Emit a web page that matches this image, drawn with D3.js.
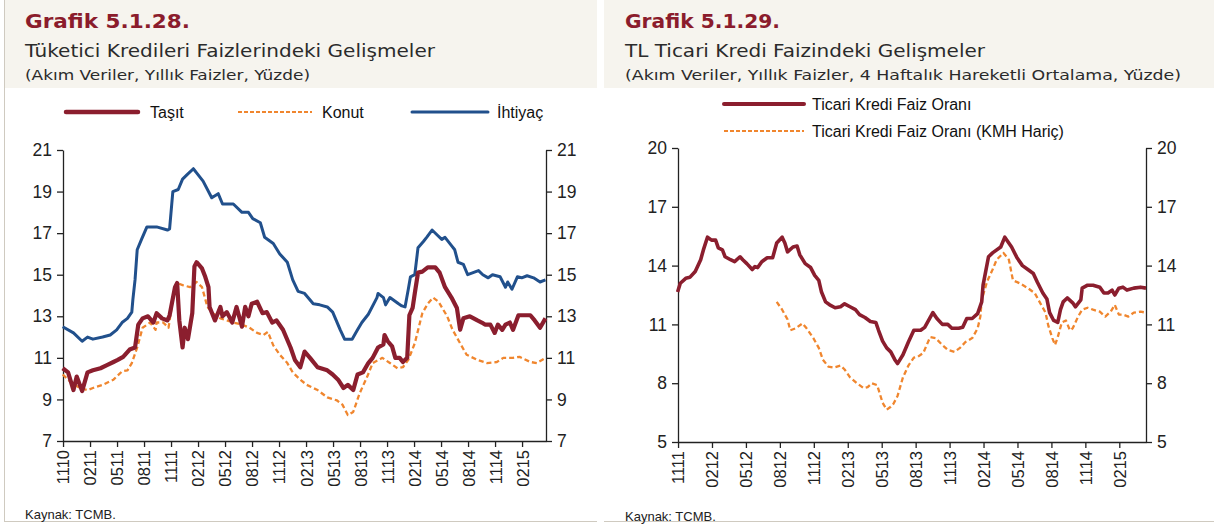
<!DOCTYPE html>
<html><head><meta charset="utf-8">
<script src="https://cdn.jsdelivr.net/npm/d3@7"></script>
<style>
html,body{margin:0;padding:0;background:#fff;}
svg{display:block;}
text{font-family:"Liberation Sans",Arial,sans-serif;}
.ttl{font-family:"DejaVu Sans","Noto Sans",sans-serif;}
</style></head>
<body><svg id="c" width="1214" height="527"></svg>
<script>
// ---------- DATA ----------
// Left chart (Grafik 5.1.28) – time in decimal years, values in %
const leftTickLabels = ["1110","0211","0511","0811","1111","0212","0512","0812","1112","0213","0513","0813","1113","0214","0514","0814","1114","0215"];
const leftYTicks = [7,9,11,13,15,17,19,21];
const tasit = [[2010.83,10.5],[2010.88,10.3],[2010.93,9.45],[2010.96,10.1],[2011.01,9.4],[2011.06,10.3],[2011.11,10.4],[2011.18,10.5],[2011.24,10.65],[2011.30,10.8],[2011.34,10.9],[2011.39,11.05],[2011.45,11.4],[2011.50,11.5],[2011.53,12.6],[2011.57,12.9],[2011.62,13.0],[2011.67,12.7],[2011.70,13.15],[2011.75,12.9],[2011.80,12.8],[2011.82,13.05],[2011.87,14.4],[2011.89,14.6],[2011.91,12.8],[2011.94,11.5],[2011.96,12.45],[2011.99,11.9],[2012.03,13.15],[2012.05,15.4],[2012.07,15.6],[2012.12,15.3],[2012.15,14.9],[2012.18,14.4],[2012.19,13.45],[2012.24,12.8],[2012.29,13.45],[2012.31,13.0],[2012.35,13.2],[2012.40,12.7],[2012.44,13.45],[2012.49,12.5],[2012.52,13.45],[2012.55,13.0],[2012.58,13.6],[2012.63,13.7],[2012.68,13.15],[2012.72,13.2],[2012.77,12.7],[2012.81,12.8],[2012.87,12.35],[2012.94,11.5],[2012.98,10.9],[2013.03,10.55],[2013.07,11.3],[2013.12,11.0],[2013.19,10.55],[2013.28,10.4],[2013.33,10.2],[2013.38,9.95],[2013.43,9.55],[2013.47,9.7],[2013.52,9.45],[2013.56,10.2],[2013.61,10.3],[2013.66,10.75],[2013.70,11.0],[2013.75,11.5],[2013.80,11.65],[2013.81,12.1],[2013.84,11.8],[2013.88,11.55],[2013.91,11.0],[2013.95,11.0],[2013.98,10.8],[2014.02,11.0],[2014.04,13.05],[2014.07,13.4],[2014.09,14.1],[2014.12,15.1],[2014.16,15.15],[2014.21,15.35],[2014.28,15.35],[2014.32,15.1],[2014.37,14.4],[2014.43,13.9],[2014.48,13.4],[2014.51,12.35],[2014.54,12.9],[2014.60,13.0],[2014.67,12.8],[2014.71,12.7],[2014.74,12.6],[2014.79,12.6],[2014.83,12.2],[2014.86,12.6],[2014.90,12.35],[2014.93,12.6],[2014.97,12.7],[2015.00,12.35],[2015.05,13.05],[2015.09,13.05],[2015.16,13.05],[2015.20,12.8],[2015.25,12.45],[2015.30,12.9]];
const konut = [[2010.83,10.2],[2010.90,9.85],[2010.99,9.55],[2011.06,9.45],[2011.11,9.55],[2011.20,9.7],[2011.30,9.95],[2011.38,10.35],[2011.43,10.4],[2011.47,10.75],[2011.52,11.5],[2011.57,12.45],[2011.64,12.7],[2011.69,12.35],[2011.70,12.7],[2011.76,12.7],[2011.81,12.45],[2011.85,13.8],[2011.89,14.6],[2011.94,14.5],[2012.01,14.4],[2012.07,14.65],[2012.12,14.4],[2012.17,13.45],[2012.22,13.15],[2012.29,12.9],[2012.35,12.8],[2012.41,12.7],[2012.49,12.6],[2012.56,12.45],[2012.63,12.2],[2012.69,12.1],[2012.73,12.25],[2012.78,11.6],[2012.84,11.15],[2012.91,10.75],[2012.96,10.3],[2013.03,9.95],[2013.09,9.7],[2013.19,9.45],[2013.28,9.1],[2013.37,8.95],[2013.42,8.75],[2013.47,8.25],[2013.52,8.4],[2013.58,9.3],[2013.65,10.1],[2013.70,10.75],[2013.79,11.0],[2013.86,10.75],[2013.93,10.5],[2013.98,10.55],[2014.03,10.9],[2014.09,11.7],[2014.16,13.15],[2014.21,13.6],[2014.26,13.9],[2014.31,13.7],[2014.39,13.0],[2014.44,12.35],[2014.51,11.7],[2014.57,11.15],[2014.67,10.9],[2014.76,10.75],[2014.85,10.8],[2014.91,11.0],[2015.00,11.0],[2015.06,11.05],[2015.16,10.8],[2015.22,10.75],[2015.30,11.0]];
const ihtiyac = [[2010.83,12.5],[2010.93,12.2],[2011.01,11.8],[2011.06,12.0],[2011.11,11.9],[2011.20,12.0],[2011.27,12.1],[2011.33,12.35],[2011.38,12.7],[2011.43,12.9],[2011.47,13.2],[2011.48,13.8],[2011.50,14.75],[2011.52,16.2],[2011.56,16.7],[2011.61,17.3],[2011.70,17.3],[2011.80,17.15],[2011.82,17.2],[2011.85,19.0],[2011.90,19.1],[2011.94,19.6],[2011.98,19.8],[2012.04,20.1],[2012.07,19.9],[2012.13,19.5],[2012.21,18.7],[2012.27,18.9],[2012.31,18.4],[2012.41,18.4],[2012.49,18.0],[2012.55,18.0],[2012.59,17.7],[2012.66,17.5],[2012.70,16.8],[2012.78,16.5],[2012.84,16.0],[2012.91,15.6],[2012.96,14.75],[2013.01,14.2],[2013.07,14.1],[2013.15,13.6],[2013.21,13.55],[2013.28,13.45],[2013.33,13.2],[2013.40,12.35],[2013.44,11.9],[2013.51,11.9],[2013.56,12.35],[2013.60,12.7],[2013.66,13.1],[2013.74,13.9],[2013.75,14.1],[2013.80,13.9],[2013.82,13.55],[2013.86,13.9],[2013.94,13.6],[2013.97,13.5],[2014.00,13.45],[2014.03,14.3],[2014.05,14.9],[2014.09,15.0],[2014.12,16.3],[2014.17,16.6],[2014.20,16.8],[2014.25,17.15],[2014.30,16.9],[2014.34,16.7],[2014.37,16.8],[2014.43,16.4],[2014.46,16.2],[2014.49,15.6],[2014.54,15.5],[2014.58,15.0],[2014.63,15.1],[2014.68,15.2],[2014.72,15.0],[2014.77,14.85],[2014.81,15.0],[2014.88,14.9],[2014.93,14.4],[2014.95,14.65],[2014.99,14.3],[2015.04,14.9],[2015.08,14.85],[2015.13,14.95],[2015.19,14.85],[2015.25,14.65],[2015.30,14.75]];

// Right chart (Grafik 5.1.29)
const rightTickLabels = ["1111","0212","0512","0812","1112","0213","0513","0813","1113","0214","0514","0814","1114","0215"];
const rightYTicks = [5,8,11,14,17,20];
const ticari = [[2011.83,12.65],[2011.85,13.1],[2011.89,13.35],[2011.92,13.4],[2011.96,13.7],[2012.00,14.3],[2012.02,14.8],[2012.05,15.45],[2012.08,15.3],[2012.11,15.3],[2012.13,14.9],[2012.16,14.8],[2012.18,14.45],[2012.22,14.3],[2012.25,14.2],[2012.29,14.45],[2012.31,14.3],[2012.34,14.1],[2012.38,13.8],[2012.40,13.95],[2012.42,13.9],[2012.45,14.2],[2012.49,14.4],[2012.53,14.4],[2012.56,15.15],[2012.60,15.45],[2012.62,15.15],[2012.64,14.7],[2012.68,14.95],[2012.71,15.0],[2012.73,14.55],[2012.77,14.1],[2012.81,13.9],[2012.84,13.5],[2012.87,13.25],[2012.89,12.65],[2012.92,12.15],[2012.95,12.0],[2012.99,11.85],[2013.03,11.9],[2013.06,12.05],[2013.10,11.9],[2013.14,11.75],[2013.17,11.5],[2013.21,11.35],[2013.25,11.15],[2013.29,11.1],[2013.31,10.7],[2013.34,10.15],[2013.37,9.8],[2013.40,9.6],[2013.43,9.2],[2013.45,9.0],[2013.49,9.45],[2013.53,10.1],[2013.57,10.7],[2013.62,10.7],[2013.65,10.85],[2013.71,11.6],[2013.74,11.3],[2013.78,11.0],[2013.82,11.0],[2013.85,10.8],[2013.90,10.8],[2013.93,10.85],[2013.96,11.3],[2014.00,11.3],[2014.04,11.55],[2014.07,12.15],[2014.08,13.0],[2014.12,14.45],[2014.15,14.65],[2014.21,14.95],[2014.24,15.45],[2014.29,14.95],[2014.33,14.4],[2014.37,14.0],[2014.41,13.8],[2014.45,13.6],[2014.48,13.15],[2014.52,12.6],[2014.55,12.3],[2014.57,11.6],[2014.60,11.2],[2014.63,11.1],[2014.65,11.75],[2014.67,12.15],[2014.70,12.35],[2014.74,12.1],[2014.76,11.9],[2014.80,12.25],[2014.81,12.85],[2014.85,13.0],[2014.89,13.0],[2014.94,12.9],[2014.97,12.6],[2015.00,12.6],[2015.03,12.75],[2015.05,12.5],[2015.08,12.85],[2015.11,12.9],[2015.14,12.75],[2015.19,12.85],[2015.24,12.9],[2015.28,12.85]];
const ticariKMH = [[2012.56,12.15],[2012.60,11.75],[2012.64,11.25],[2012.66,10.7],[2012.70,10.8],[2012.75,11.05],[2012.78,10.8],[2012.83,10.3],[2012.87,9.8],[2012.90,9.2],[2012.94,8.85],[2012.98,8.8],[2013.03,8.9],[2013.06,8.7],[2013.10,8.3],[2013.15,8.0],[2013.20,7.75],[2013.23,7.8],[2013.26,8.0],[2013.30,7.9],[2013.32,7.45],[2013.34,7.0],[2013.37,6.65],[2013.40,6.8],[2013.42,6.95],[2013.45,7.35],[2013.49,8.3],[2013.53,8.9],[2013.57,9.3],[2013.60,9.35],[2013.64,9.55],[2013.69,10.35],[2013.73,10.3],[2013.78,9.95],[2013.82,9.7],[2013.87,9.6],[2013.91,9.8],[2013.95,10.1],[2014.00,10.3],[2014.04,10.8],[2014.06,11.4],[2014.07,12.25],[2014.11,13.2],[2014.15,13.8],[2014.18,14.3],[2014.23,14.65],[2014.27,14.3],[2014.30,13.25],[2014.35,13.1],[2014.41,12.85],[2014.46,12.6],[2014.50,12.1],[2014.54,11.6],[2014.56,10.95],[2014.59,10.3],[2014.61,9.95],[2014.63,10.35],[2014.66,11.1],[2014.69,11.2],[2014.72,10.7],[2014.74,10.8],[2014.78,11.4],[2014.81,11.75],[2014.85,11.85],[2014.89,11.75],[2014.94,11.65],[2014.98,11.4],[2015.02,11.65],[2015.05,12.0],[2015.08,11.5],[2015.11,11.5],[2015.15,11.4],[2015.19,11.6],[2015.24,11.65],[2015.28,11.6]];

// ---------- DRAW ----------
const RED="#8b1e2e", ORANGE="#f0862e", BLUE="#21508c", TITLE="#8b1c2c", BEIGE="#f6f4ee";
const svg=d3.select("#c");
const tickVal = s => (2000+ +s.slice(2)) + (+s.slice(0,2)-1)/12;

// backgrounds / frames
svg.append("rect").attr("x",0).attr("y",0).attr("width",1214).attr("height",527).attr("fill","#fff");
svg.append("rect").attr("x",5).attr("y",0).attr("width",592).attr("height",88).attr("fill",BEIGE);
svg.append("rect").attr("x",604).attr("y",0).attr("width",610).attr("height",88).attr("fill",BEIGE);
svg.append("line").attr("x1",4.5).attr("x2",4.5).attr("y1",0).attr("y2",521).attr("stroke","#cfcac0");
svg.append("line").attr("x1",4).attr("x2",597).attr("y1",521.5).attr("y2",521.5).attr("stroke","#cfcac0");
svg.append("line").attr("x1",604).attr("x2",1214).attr("y1",521.5).attr("y2",521.5).attr("stroke","#cfcac0");

function titles(x, t1, t2, t3, w1, w2, w3){
  svg.append("text").attr("class","ttl").attr("x",x).attr("y",28).attr("font-size",20).attr("font-weight","bold")
     .attr("fill",TITLE).attr("textLength",w1).attr("lengthAdjust","spacingAndGlyphs").text(t1);
  svg.append("text").attr("class","ttl").attr("x",x).attr("y",57).attr("font-size",17).attr("fill","#2b2b2b")
     .attr("textLength",w2).attr("lengthAdjust","spacingAndGlyphs").text(t2);
  svg.append("text").attr("class","ttl").attr("x",x).attr("y",80).attr("font-size",14).attr("fill","#2b2b2b")
     .attr("textLength",w3).attr("lengthAdjust","spacingAndGlyphs").text(t3);
}
titles(25,"Grafik 5.1.28.","Tüketici Kredileri Faizlerindeki Gelişmeler","(Akım Veriler, Yıllık Faizler, Yüzde)",165,410,285);
titles(625,"Grafik 5.1.29.","TL Ticari Kredi Faizindeki Gelişmeler","(Akım Veriler, Yıllık Faizler, 4 Haftalık Hareketli Ortalama, Yüzde)",155,360,556);

svg.append("text").attr("x",25).attr("y",519).attr("font-size",13).attr("fill","#222").text("Kaynak: TCMB.");
svg.append("text").attr("x",625).attr("y",521).attr("font-size",13).attr("fill","#222").text("Kaynak: TCMB.");

function chart(o){
  const x=d3.scaleLinear().domain(o.xDomain).range([o.x0,o.x1]);
  const y=d3.scaleLinear().domain(o.yDomain).range([o.y1,o.y0]);
  const g=svg.append("g");
  // axes
  const ax=g.append("g").attr("transform",`translate(0,${o.y1})`)
    .call(d3.axisBottom(x).tickValues(o.xTicks.map(tickVal)).tickFormat((d,i)=>o.xTicks[i]).tickSize(6).tickSizeOuter(0));
  ax.selectAll("text").attr("transform","rotate(-90)").attr("x",-9).attr("y",0).attr("dy","0.36em")
    .style("text-anchor","end").attr("font-size",16.5).attr("fill","#222");
  const al=g.append("g").attr("transform",`translate(${o.x0},0)`).call(d3.axisLeft(y).tickValues(o.yTicks).tickSize(6).tickSizeOuter(0));
  al.selectAll("text").attr("font-size",17.5).attr("fill","#222").attr("x",-11);
  const ar=g.append("g").attr("transform",`translate(${o.x1},0)`).call(d3.axisRight(y).tickValues(o.yTicks).tickSize(6).tickSizeOuter(0));
  ar.selectAll("text").attr("font-size",17.5).attr("fill","#222").attr("x",11);
  g.selectAll(".domain").attr("stroke","#222").attr("stroke-width",1.3);
  g.selectAll(".tick line").attr("stroke","#222").attr("stroke-width",1.3);
  g.selectAll("text").attr("font-family","Liberation Sans, Arial, sans-serif");
  // lines
  const line=d3.line().x(d=>x(d[0])).y(d=>y(d[1]));
  o.series.forEach(s=>{
    g.append("path").datum(s.data).attr("d",line).attr("fill","none").attr("stroke",s.color)
     .attr("stroke-width",s.w).attr("stroke-dasharray",s.dash||null).attr("stroke-linejoin","round");
  });
}

chart({xDomain:[2010.833,2015.305],x0:63,x1:546,yDomain:[7,21],y0:150,y1:441,xTicks:leftTickLabels,yTicks:leftYTicks,
  series:[{data:konut,color:ORANGE,w:2.3,dash:"5,3"},{data:ihtiyac,color:BLUE,w:3},{data:tasit,color:RED,w:4.2}]});
chart({xDomain:[2011.833,2015.28],x0:678,x1:1146,yDomain:[5,20],y0:148,y1:442,xTicks:rightTickLabels,yTicks:rightYTicks,
  series:[{data:ticariKMH,color:ORANGE,w:2.3,dash:"5,3"},{data:ticari,color:RED,w:3.6}]});

// legends
function legItem(x1,x2,y,color,w,dash,label,tx){
  svg.append("line").attr("x1",x1).attr("x2",x2).attr("y1",y).attr("y2",y).attr("stroke",color)
     .attr("stroke-width",w).attr("stroke-dasharray",dash||null).attr("stroke-linecap",dash?"butt":"round");
  svg.append("text").attr("x",tx).attr("y",y).attr("dy","0.35em").attr("font-size",16).attr("fill","#111").text(label);
}
legItem(66,138,112,RED,4.5,null,"Taşıt",150);
legItem(238,312,112,ORANGE,2,"4,2","Konut",322);
legItem(412,488,112,BLUE,3,null,"İhtiyaç",497);
legItem(724,804,104,RED,4,null,"Ticari Kredi Faiz Oranı",812);
legItem(724,804,131,ORANGE,2,"4,2","Ticari Kredi Faiz Oranı (KMH Hariç)",812);
</script></body></html>
